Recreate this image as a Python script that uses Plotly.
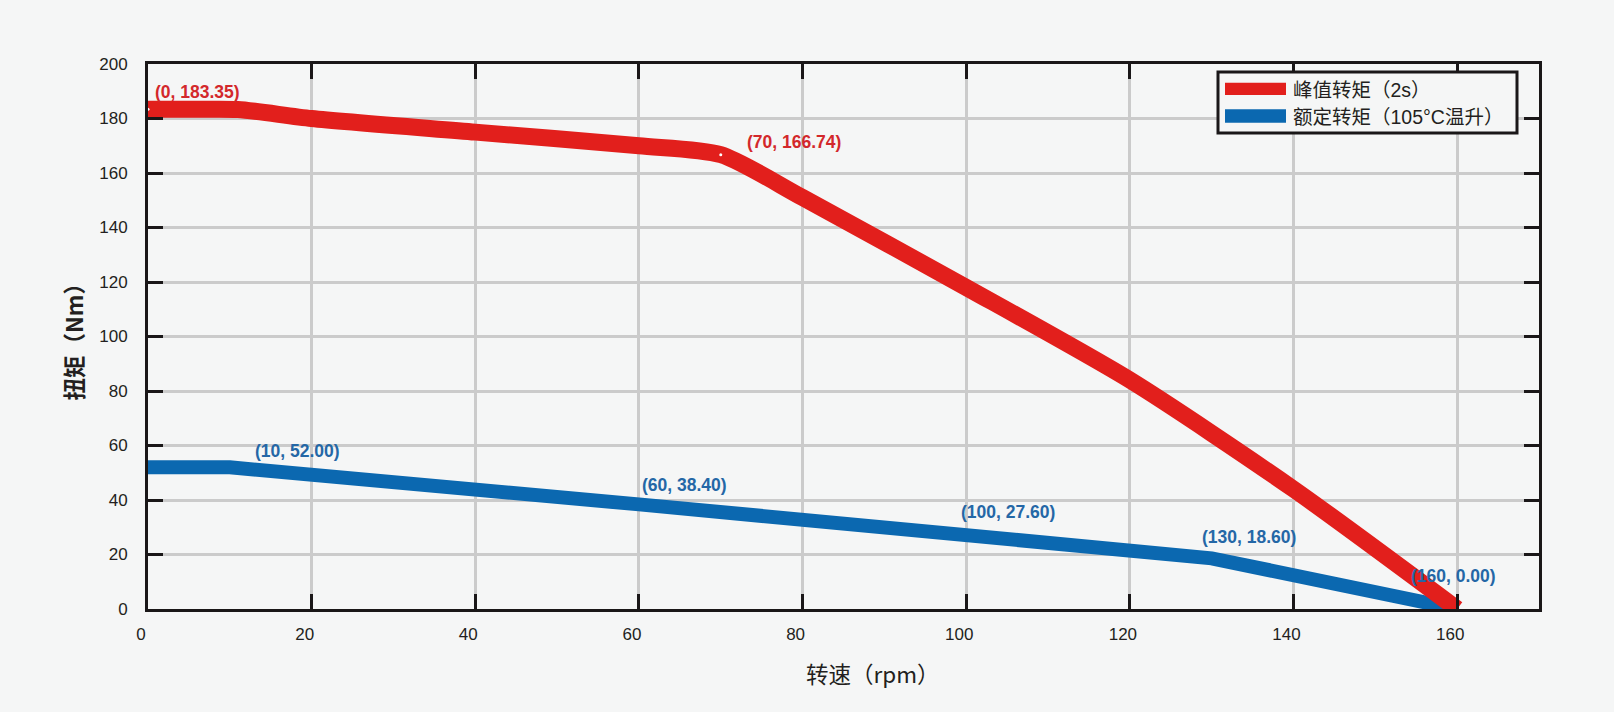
import plotly.graph_objects as go

# ---- data ----
speed_peak = [0, 5, 11, 20, 40, 60, 70, 80, 100, 120, 140, 160]
torque_peak = [183.35, 183.35, 183.3, 180.0, 175.0, 170.0, 166.74, 151.0, 118.0, 84.0, 44.0, 0.0]

speed_rated = [0, 10, 60, 100, 130, 160]
torque_rated = [52.0, 52.0, 38.4, 27.6, 18.6, 0.0]

peak_label_pts = [(0, 183.35), (70, 166.74)]
rated_label_pts = [(10, 52.00), (60, 38.40), (100, 27.60), (130, 18.60), (160, 0.00)]

x_ticks = [0, 20, 40, 60, 80, 100, 120, 140, 160]
y_ticks = [0, 20, 40, 60, 80, 100, 120, 140, 160, 180, 200]

name_peak = "峰值转矩（2s）"
name_rated = "额定转矩（105°C温升）"
x_title = "转速（rpm）"
y_title = "扭矩（Nm）"

# ---- styles ----
RED = "#e21f1c"
BLUE = "#0b68b0"
RED_TXT = "#d3282b"
BLUE_TXT = "#2467a6"
BG = "#f5f6f6"
FONT = "Liberation Sans, Arial, Noto Sans CJK SC"
CJK = "Noto Sans CJK SC, Liberation Sans"

fig = go.Figure()

fig.add_trace(go.Scatter(
    x=speed_rated, y=torque_rated, mode="lines", name=name_rated,
    line=dict(color=BLUE, width=14), showlegend=False, hoverinfo="skip"))
fig.add_trace(go.Scatter(
    x=speed_peak, y=torque_peak, mode="lines", name=name_peak,
    line=dict(color=RED, width=17, shape="spline", smoothing=0.7),
    showlegend=False, hoverinfo="skip"))
fig.add_trace(go.Scatter(
    x=[p[0] for p in peak_label_pts], y=[p[1] for p in peak_label_pts],
    mode="markers", marker=dict(color="white", size=3), showlegend=False,
    hoverinfo="skip", cliponaxis=False))

# data labels
peak_shifts = [(49, 17), (73, 13)]
rated_shifts = [(68, 16), (46, 19), (42, 22), (37, 21), (-4, 33)]
for (px, py), (dx, dy) in zip(peak_label_pts, peak_shifts):
    fig.add_annotation(x=px, y=py, text=f"({px}, {py:.2f})", showarrow=False,
                       xshift=dx, yshift=dy,
                       font=dict(family=FONT, size=17.5, color=RED_TXT, weight="bold"))
for (px, py), (dx, dy) in zip(rated_label_pts, rated_shifts):
    fig.add_annotation(x=px, y=py, text=f"({px}, {py:.2f})", showarrow=False,
                       xshift=dx, yshift=dy,
                       font=dict(family=FONT, size=17.5, color=BLUE_TXT, weight="bold"))

# axis titles
fig.add_annotation(xref="paper", yref="paper", x=-0.0546, y=0.5, text=y_title,
                   showarrow=False, textangle=-90, xanchor="center", yanchor="middle",
                   font=dict(family=CJK, size=22.5, color="#231f20", weight="bold"))
fig.add_annotation(xref="paper", yref="paper", x=0.521, y=-0.1174, text=x_title,
                   showarrow=False, xanchor="center", yanchor="middle",
                   font=dict(family=CJK, size=22.5, color="#231f20"))

# manual legend (paper coords of plot area)
W, H = 1391.0, 545.0
def px2paper(xp, yp):
    return (xp - 148) / W, (609 - yp) / H

lx0, ly0 = px2paper(1218, 133)
lx1, ly1 = px2paper(1517, 72)
fig.add_shape(type="rect", xref="paper", yref="paper", x0=lx0, y0=ly0, x1=lx1, y1=ly1,
              line=dict(color="#1a1718", width=3), fillcolor=BG, layer="above")
for (yt, yb, col, txt, ty) in [(82.7, 95, RED, name_peak, 90), (109.3, 122.7, BLUE, name_rated, 117)]:
    sx0, sy0 = px2paper(1225, yb)
    sx1, sy1 = px2paper(1286, yt)
    fig.add_shape(type="rect", xref="paper", yref="paper", x0=sx0, y0=sy0, x1=sx1, y1=sy1,
                  line=dict(width=0), fillcolor=col, layer="above")
    tx, tyy = px2paper(1291, ty)
    fig.add_annotation(xref="paper", yref="paper", x=tx, y=tyy, text=txt, showarrow=False,
                       xanchor="left", yanchor="middle",
                       font=dict(family=FONT, size=19.5, color="#231f20"))

axis_common = dict(
    showgrid=True, gridcolor="#cbcbcb", gridwidth=3,
    showline=True, linecolor="#1a1718", linewidth=3, mirror="allticks",
    ticks="inside", ticklen=15, tickwidth=3, tickcolor="#1a1718",
    zeroline=False, tickfont=dict(family=FONT, size=17, color="#231f20"),
)

fig.update_xaxes(range=[0, 170], tickvals=x_ticks, ticktext=[str(v) for v in x_ticks],
                 ticklabelshift=-7, ticklabelstandoff=8, **axis_common)
fig.update_yaxes(range=[0, 200], tickvals=y_ticks, ticktext=[str(v) for v in y_ticks],
                 ticklabelstandoff=14, **axis_common)

fig.update_layout(
    width=1614, height=712, autosize=False,
    margin=dict(l=148, r=75, t=64, b=103),
    paper_bgcolor=BG, plot_bgcolor=BG,
    showlegend=False,
)

fig.write_html("out.html")
